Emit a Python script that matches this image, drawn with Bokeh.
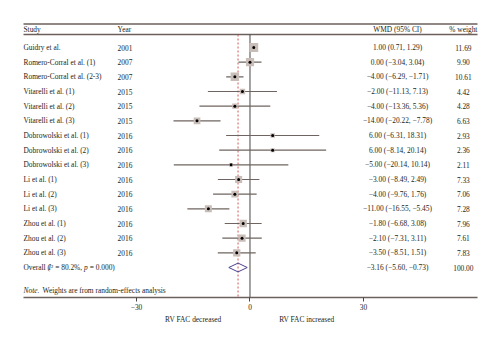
from bokeh.plotting import figure
from bokeh.models import Range1d, LinearAxis, FixedTicker, ColumnDataSource
from bokeh.core.properties import value
from bokeh.embed import file_html
from bokeh.resources import INLINE
import numpy as np

studies = ["Guidry et al.", "Romero-Corral et al. (1)", "Romero-Corral et al. (2-3)",
           "Vitarelli et al. (1)", "Vitarelli et al. (2)", "Vitarelli et al. (3)",
           "Dobrowolski et al. (1)", "Dobrowolski et al. (2)", "Dobrowolski et al. (3)",
           "Li et al. (1)", "Li et al. (2)", "Li et al. (3)",
           "Zhou et al. (1)", "Zhou et al. (2)", "Zhou et al. (3)"]
years = [2001, 2007, 2007, 2015, 2015, 2015, 2016, 2016, 2016, 2016, 2016, 2016, 2016, 2016, 2016]
wmd = [1.00, 0.00, -4.00, -2.00, -4.00, -14.00, 6.00, 6.00, -5.00, -3.00, -4.00, -11.00, -1.80, -2.10, -3.50]
ci_lo = [0.71, -3.04, -6.29, -11.13, -13.36, -20.22, -6.31, -8.14, -20.14, -8.49, -9.76, -16.55, -6.68, -7.31, -8.51]
ci_hi = [1.29, 3.04, -1.71, 7.13, 5.36, -7.78, 18.31, 20.14, 10.14, 2.49, 1.76, -5.45, 3.08, 3.11, 1.51]
weights = [11.69, 9.90, 10.61, 4.42, 4.28, 6.63, 2.93, 2.36, 2.11, 7.33, 7.06, 7.28, 7.96, 7.61, 7.83]
overall_est, overall_lo, overall_hi, overall_w = -3.16, -5.60, -0.73, 100.00
x_ticks = [-30, 0, 30]
x_tick_labels = ["\u221230", "0", "30"]
side_labels = ["RV FAC decreased", "RV FAC increased"]
side_label_pos = [-15, 15]

def fmt(v):
    s = f"{abs(v):.2f}"
    return ("\u2212" + s) if v < 0 else s

n = len(studies)
rows = list(range(n))
overall_row = n

FONT = value("Liberation Serif")
FS = value("7.4px")
TXT = "#231f20"
RULE = "#6b605c"

p = figure(width=500, height=344, output_backend="svg", toolbar_location=None,
           x_range=Range1d(-65.95, 66.22), y_range=Range1d(17.045, -3.2045),
           min_border_left=0, min_border_right=0, min_border_top=0, min_border_bottom=47,
           x_axis_location=None, y_axis_location=None)
p.outline_line_color = None
p.xgrid.visible = False
p.ygrid.visible = False
p.background_fill_color = "white"
p.border_fill_color = "white"

x_left, x_right = -59.87, 60.14
col_year = -35.0
col_wmd = 39.0
col_w = 56.4
r_top, r_head, r_headline, r_note, r_bottom = -1.602, -1.227, -0.886, 16.568, 17.045

# rules
p.segment(x0=[x_left, x_left], x1=[x_right, x_right], y0=[r_top, r_headline], y1=[r_top, r_headline],
          line_color=RULE, line_width=1.5)

# zero line and overall dashed line
p.segment(x0=[0], x1=[0], y0=[r_headline], y1=[r_bottom], line_color="#4a4444", line_width=1)
p.segment(x0=[overall_est], x1=[overall_est], y0=[r_headline], y1=[r_bottom],
          line_color="#c8463c", line_width=0.9, line_dash="2 2")

src = ColumnDataSource(dict(
    row=rows, study=studies, year=[str(y) for y in years], wmd=wmd, lo=ci_lo, hi=ci_hi,
    size=[2.6 * np.sqrt(w) for w in weights],
    ci=[f"{fmt(e)} ({fmt(a)}, {fmt(b)})" for e, a, b in zip(wmd, ci_lo, ci_hi)],
    wt=[f"{w:.2f}" for w in weights]))

p.segment(x0="lo", x1="hi", y0="row", y1="row", source=src, line_color="#6e6461", line_width=1.1)
p.scatter(x="wmd", y="row", size="size", marker="square", source=src,
          fill_color="#c9bdb8", line_color=None)
p.scatter(x="wmd", y="row", size=3, marker="circle", source=src, fill_color="black", line_color=None)

# diamond
hh = 0.3
p.patch(x=[overall_lo, overall_est, overall_hi, overall_est],
        y=[overall_row, overall_row - hh, overall_row, overall_row + hh],
        fill_color=None, line_color="#4b3f8f", line_width=1)

# table text
p.text(x=x_left, y="row", text="study", source=src, text_font=FONT, text_font_size=FS,
       text_color=TXT, text_baseline="middle", text_align="left")
p.text(x=col_year, y="row", text="year", source=src, text_font=FONT, text_font_size=FS,
       text_color=TXT, text_baseline="middle", text_align="left")
p.text(x=col_wmd, y="row", text="ci", source=src, text_font=FONT, text_font_size=FS,
       text_color=TXT, text_baseline="middle", text_align="center")
p.text(x=col_w, y="row", text="wt", source=src, text_font=FONT, text_font_size=FS,
       text_color=TXT, text_baseline="middle", text_align="center")

# headers
p.text(x=[x_left, col_year], y=[r_head] * 2, text=["Study", "Year"], text_font=FONT, text_font_size=FS,
       text_color=TXT, text_baseline="middle", text_align="left")
p.text(x=[col_wmd, col_w], y=[r_head] * 2, text=["WMD (95% CI)", "% weight"], text_font=FONT,
       text_font_size=FS, text_color=TXT, text_baseline="middle", text_align="center")

# overall row (mixed italic pieces)
parts = ["Overall (", "I", "\u00b2 = 80.2%,", "p", "= 0.000)"]
offs = [0, 25.0, 27.6, 60.5, 66.2]
styles = ["normal", "italic", "normal", "italic", "normal"]
for t, o, s in zip(parts, offs, styles):
    p.text(x=[x_left], y=[overall_row], text=[t], x_offset=o, text_font=FONT, text_font_size=FS,
           text_font_style=s, text_color=TXT, text_baseline="middle", text_align="left")
p.text(x=[col_wmd], y=[overall_row], text=[f"{fmt(overall_est)} ({fmt(overall_lo)}, {fmt(overall_hi)})"],
       text_font=FONT, text_font_size=FS, text_color=TXT, text_baseline="middle", text_align="center")
p.text(x=[col_w], y=[overall_row], text=[f"{overall_w:.2f}"],
       text_font=FONT, text_font_size=FS, text_color=TXT, text_baseline="middle", text_align="center")

# note
p.text(x=[x_left], y=[r_note], text=["Note."], text_font=FONT, text_font_size=FS, text_font_style="italic",
       text_color=TXT, text_baseline="middle", text_align="left")
p.text(x=[x_left], y=[r_note], text=["Weights are from random-effects analysis"], x_offset=19,
       text_font=FONT, text_font_size=FS, text_color=TXT, text_baseline="middle", text_align="left")

# bottom axis
ax = LinearAxis(ticker=FixedTicker(ticks=x_ticks), bounds=(x_left, x_right),
                major_label_overrides={t: l for t, l in zip(x_ticks, x_tick_labels)})
ax.axis_line_color = RULE
ax.axis_line_width = 1.5
ax.major_tick_line_color = "#4a4444"
ax.major_tick_in = 0
ax.major_tick_out = 4
ax.minor_tick_line_color = None
ax.major_label_standoff = 2
ax.major_label_text_font = "Liberation Serif"
ax.major_label_text_font_size = "7.4px"
ax.major_label_text_color = TXT
p.add_layout(ax, "below")

ax2 = LinearAxis(ticker=FixedTicker(ticks=side_label_pos),
                 major_label_overrides={t: l for t, l in zip(side_label_pos, side_labels)})
ax2.axis_line_color = None
ax2.major_tick_line_color = None
ax2.minor_tick_line_color = None
ax2.major_tick_out = 0
ax2.major_tick_in = 0
ax2.major_label_standoff = 2
ax2.major_label_text_font = "Liberation Serif"
ax2.major_label_text_font_size = "7.4px"
ax2.major_label_text_color = TXT
p.add_layout(ax2, "below")

open("out.html", "w").write(file_html(p, INLINE))
